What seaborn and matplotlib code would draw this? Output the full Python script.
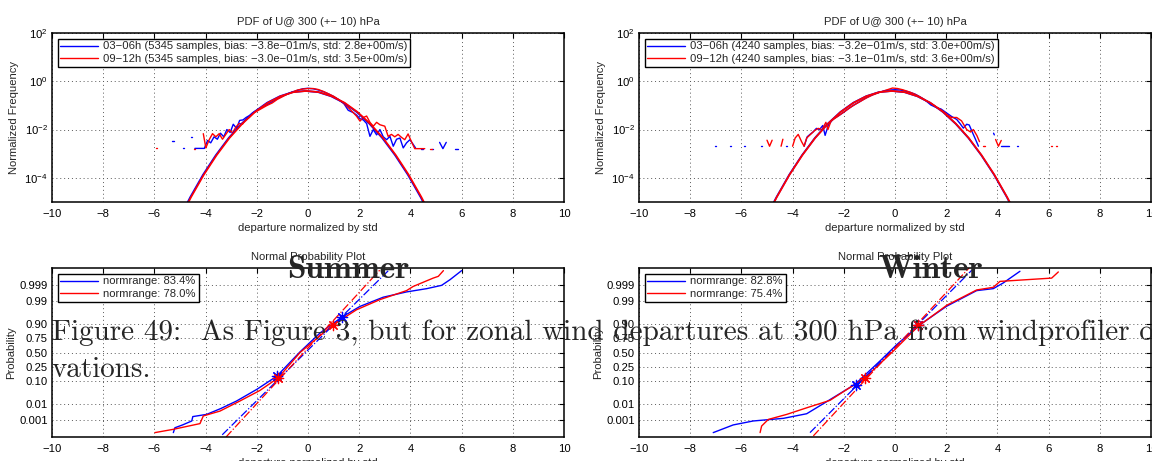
import numpy as np
import matplotlib
matplotlib.use('Agg')
import matplotlib.pyplot as plt
import seaborn as sns
from matplotlib.lines import Line2D
from matplotlib.ticker import FuncFormatter, NullLocator
from statistics import NormalDist

nan = np.nan

# ---- PDF panels: (departure / std, log10 normalized frequency), nan = gap ----
summer_blue_pdf = [
    (-5.30, -2.49), (-5.22, -2.49), (nan, nan), (-4.90, -2.78), (-4.84, -2.78), (nan, nan),
    (-4.57, -2.29), (-4.52, -2.29), (nan, nan),
    (-4.42, -2.78), (-4.30, -2.78), (-4.17, -2.78), (-4.05, -2.78), (-3.92, -2.45), (-3.80, -2.55),
    (-3.67, -2.30), (-3.54, -2.40), (-3.42, -2.15), (-3.29, -2.30), (-3.17, -2.00), (-3.04, -2.12),
    (-2.92, -1.78), (-2.79, -1.95), (-2.67, -1.62), (-2.54, -1.60), (-2.42, -1.50), (-2.29, -1.42),
    (-2.16, -1.30), (-2.00, -1.20), (-1.80, -1.08), (-1.60, -0.97), (-1.40, -0.85), (-1.20, -0.72),
    (-1.00, -0.62), (-0.80, -0.52), (-0.60, -0.44), (-0.40, -0.37), (-0.20, -0.31), (0.00, -0.29),
    (0.20, -0.31), (0.40, -0.36), (0.60, -0.43), (0.80, -0.52), (1.00, -0.63), (1.20, -0.76),
    (1.40, -0.92), (1.57, -1.20), (1.77, -1.30), (1.90, -1.40), (2.03, -1.55), (2.16, -1.60),
    (2.29, -1.75), (2.42, -2.28), (2.55, -2.00), (2.68, -2.22), (2.81, -2.00), (2.94, -2.30),
    (3.07, -2.42), (3.20, -2.28), (3.33, -2.69), (3.46, -2.40), (3.59, -2.35), (3.72, -2.76),
    (3.85, -2.55), (3.98, -2.42), (4.10, -2.60), (4.20, -2.76), (nan, nan),
    (4.40, -2.79), (4.50, -2.79), (nan, nan), (4.85, -2.79), (4.90, -2.79), (nan, nan),
    (5.14, -2.53), (5.27, -2.79), (5.40, -2.53), (nan, nan), (5.75, -2.79), (5.85, -2.79),
]
summer_red_pdf = [
    (-5.95, -2.78), (-5.90, -2.78), (nan, nan), (-4.45, -2.79), (-4.40, -2.79), (nan, nan),
    (-4.09, -2.17), (-3.99, -2.76), (-3.86, -2.42), (-3.73, -2.17), (-3.60, -2.30), (-3.47, -2.17),
    (-3.34, -2.40), (-3.21, -2.20), (-3.08, -2.00), (-2.95, -2.14), (-2.82, -1.90), (-2.69, -1.75),
    (-2.56, -1.78), (-2.43, -1.58), (-2.30, -1.50), (-2.14, -1.32), (-2.00, -1.24), (-1.80, -1.12),
    (-1.60, -1.00), (-1.40, -0.90), (-1.20, -0.75), (-1.00, -0.64), (-0.80, -0.53), (-0.60, -0.44),
    (-0.40, -0.36), (-0.20, -0.32), (0.00, -0.30), (0.20, -0.30), (0.40, -0.34), (0.60, -0.42),
    (0.80, -0.52), (1.00, -0.62), (1.20, -0.76), (1.40, -0.92), (1.60, -1.12), (1.77, -1.30),
    (1.90, -1.45), (2.03, -1.65), (2.16, -1.50), (2.29, -1.44), (2.42, -1.70), (2.55, -1.86),
    (2.68, -1.70), (2.81, -1.80), (3.00, -1.86), (3.13, -2.28), (3.26, -2.20), (3.39, -2.30),
    (3.52, -2.20), (3.65, -2.32), (3.78, -2.42), (3.91, -2.18), (4.04, -2.50), (4.17, -2.79),
    (4.30, -2.79), (4.43, -2.79), (4.56, -2.79), (nan, nan), (4.78, -2.79), (4.84, -2.79),
]
winter_blue_pdf = [
    (-7.05, -2.69), (-7.00, -2.69), (nan, nan), (-6.46, -2.69), (-6.42, -2.69), (nan, nan),
    (-5.88, -2.69), (-5.84, -2.69), (nan, nan), (-5.23, -2.69), (-5.19, -2.69), (nan, nan),
    (-4.26, -2.69), (-4.22, -2.69), (nan, nan),
    (-3.55, -2.69), (-3.43, -2.30), (-3.32, -2.20), (-3.20, -2.10), (-3.07, -1.95), (-2.95, -2.00),
    (-2.82, -1.83), (-2.73, -2.24), (-2.60, -1.80), (-2.41, -1.56), (-2.22, -1.44), (-2.00, -1.28),
    (-1.80, -1.12), (-1.60, -0.98), (-1.40, -0.86), (-1.20, -0.73), (-1.00, -0.62), (-0.80, -0.52),
    (-0.60, -0.45), (-0.40, -0.39), (-0.20, -0.36), (0.00, -0.35), (0.20, -0.36), (0.40, -0.40),
    (0.60, -0.46), (0.80, -0.54), (1.00, -0.66), (1.20, -0.80), (1.40, -0.98), (1.60, -1.08),
    (1.80, -1.15), (2.00, -1.30), (2.20, -1.45), (2.41, -1.58), (2.54, -1.75), (2.67, -1.94),
    (2.80, -1.78), (2.90, -1.81), (3.00, -2.06), (3.13, -2.37), (3.26, -2.69), (nan, nan),
    (3.85, -2.15), (3.88, -2.22), (nan, nan), (4.15, -2.69), (4.30, -2.69), (4.46, -2.69), (nan, nan),
    (4.76, -2.69), (4.80, -2.69),
]
winter_red_pdf = [
    (-5.00, -2.44), (-4.90, -2.69), (-4.80, -2.44), (nan, nan), (-4.45, -2.69), (-4.38, -2.40), (nan, nan),
    (-4.00, -2.69), (-3.90, -2.35), (-3.78, -2.20), (-3.65, -2.50), (-3.55, -2.69), (-3.45, -2.35),
    (-3.30, -2.20), (-3.15, -2.05), (-3.00, -1.95), (-2.85, -2.00), (-2.70, -1.70), (-2.62, -2.00),
    (-2.50, -1.65), (-2.30, -1.50), (-2.10, -1.35), (-1.90, -1.20), (-1.70, -1.05), (-1.50, -0.92),
    (-1.30, -0.80), (-1.10, -0.68), (-0.90, -0.58), (-0.70, -0.50), (-0.50, -0.42), (-0.30, -0.35),
    (-0.10, -0.28), (0.10, -0.30), (0.30, -0.35), (0.50, -0.42), (0.70, -0.50), (0.90, -0.60),
    (1.10, -0.72), (1.30, -0.86), (1.50, -0.98), (1.70, -1.12), (1.90, -1.26), (2.05, -1.40),
    (2.20, -1.50), (2.41, -1.50), (2.60, -1.64), (2.80, -2.00), (2.95, -2.10), (3.06, -2.00),
    (3.20, -2.25), (3.30, -2.50), (nan, nan), (3.45, -2.69), (3.50, -2.69), (nan, nan),
    (3.93, -2.41), (4.04, -2.69), (4.15, -2.45), (nan, nan), (6.10, -2.69), (6.15, -2.69), (nan, nan),
    (6.28, -2.69), (6.32, -2.69),
]

# fitted gaussian (log10), shared shape, with per-series centre offsets
fit_x = [-5.0, -4.5, -4.0, -3.5, -3.0, -2.5, -2.0, -1.5, -1.0, -0.5, 0.0,
         0.5, 1.0, 1.5, 2.0, 2.5, 3.0, 3.5, 4.0, 4.5, 5.0]
fit_logf = [-5.83, -4.80, -3.87, -3.06, -2.35, -1.76, -1.27, -0.89, -0.62, -0.45, -0.40,
            -0.45, -0.62, -0.89, -1.27, -1.76, -2.35, -3.06, -3.87, -4.80, -5.83]
fit_shift = {'summer': (-0.10, -0.07), 'winter': (-0.13, -0.12)}

samples = {'summer': 5345, 'winter': 4240}
bias = {'summer': ('\u22123.8e\u221201', '\u22123.0e\u221201'), 'winter': ('\u22123.2e\u221201', '\u22123.1e\u221201')}
std = {'summer': ('2.8e+00', '3.5e+00'), 'winter': ('3.0e+00', '3.6e+00')}
normrange = {'summer': ('83.4%', '78.0%'), 'winter': ('82.8%', '75.4%')}

# ---- normal probability panels: (departure / std, normal quantile z) ----
summer_blue_q = [(-5.26, -3.65), (-5.20, -3.43), (-4.90, -3.30), (-4.54, -3.12), (-4.50, -2.92),
                 (-3.96, -2.82), (-3.40, -2.55), (-2.79, -2.21), (-2.00, -1.68), (-1.22, -1.08),
                 (-0.31, 0.03), (0.47, 0.89), (1.32, 1.61), (2.03, 2.10), (2.94, 2.52), (3.85, 2.76),
                 (4.64, 2.91), (5.22, 3.06), (5.55, 3.32), (6.00, 3.73)]
summer_red_q = [(-5.98, -3.65), (-5.26, -3.50), (-4.22, -3.24), (-4.09, -2.89), (-3.44, -2.67),
                (-2.66, -2.21), (-1.88, -1.73), (-1.16, -1.15), (-0.31, 0.00), (0.99, 1.27),
                (1.90, 1.95), (2.81, 2.41), (3.85, 2.82), (4.11, 3.01), (4.89, 3.39), (5.09, 3.47),
                (5.29, 3.73)]
winter_blue_q = [(-7.10, -3.65), (-6.32, -3.30), (-5.54, -3.12), (-4.36, -3.00), (-3.45, -2.79),
                 (-2.67, -2.24), (-1.56, -1.45), (-0.59, -0.39), (0.07, 0.36), (0.98, 1.27),
                 (2.02, 2.11), (3.19, 2.82), (3.84, 2.91), (4.23, 3.17), (4.88, 3.70)]
winter_red_q = [(-5.27, -3.65), (-5.21, -3.35), (-4.95, -3.05), (-4.23, -2.82), (-3.45, -2.52),
                (-2.54, -2.18), (-1.17, -1.15), (-0.07, 0.06), (0.91, 1.20), (2.02, 2.15),
                (3.19, 2.85), (3.84, 2.97), (4.10, 3.24), (6.12, 3.39), (6.38, 3.67)]
ref_lines = {'summer': ([(-3.35, -3.75), (3.20, 3.80)], [(-3.20, -3.85), (2.80, 3.75)]),
             'winter': ([(-3.32, -3.65), (3.00, 3.75)], [(-3.19, -3.80), (2.90, 3.86)])}
quant_marks = {'summer': ([(-1.22, -1.08), (1.32, 1.61)], [(-1.16, -1.15), (0.99, 1.27)]),
               'winter': ([(-1.52, -1.49), (0.91, 1.27)], [(-1.17, -1.15), (0.91, 1.24)])}
prob_ticks = [0.001, 0.01, 0.10, 0.25, 0.50, 0.75, 0.90, 0.99, 0.999]
prob_labels = ['0.001', '0.01', '0.10', '0.25', '0.50', '0.75', '0.90', '0.99', '0.999']

sns.set_style('white')
plt.rcParams['font.family'] = ['Liberation Sans', 'DejaVu Sans']
plt.rcParams['mathtext.fontset'] = 'custom'
plt.rcParams['mathtext.rm'] = 'Liberation Sans'
plt.rcParams['mathtext.it'] = 'Liberation Sans'

BLUE, RED = '#0000ff', '#ff0000'
FS = 8.1


def draw(ax, pts, color, ls='-', lw=1.0, logy=False):
    arr = np.array(pts, dtype=float)
    cuts = np.where(np.isnan(arr[:, 0]))[0]
    for seg in np.split(arr, cuts):
        seg = seg[~np.isnan(seg[:, 0])]
        if len(seg) < 2:
            continue
        y = 10 ** seg[:, 1] if logy else seg[:, 1]
        sns.lineplot(x=seg[:, 0], y=y, ax=ax, color=color, lw=lw, linestyle=ls,
                     estimator=None, sort=False)


def frame(ax):
    for s in ax.spines.values():
        s.set_color('black')
        s.set_linewidth(1.1)
    ax.tick_params(direction='in', length=3.5, width=0.8, top=True, right=True,
                   labelsize=FS, pad=3, colors='black')
    ax.tick_params(axis='x', pad=5)
    ax.grid(True, ls=(0, (1, 3)), color='0.35', lw=0.7)
    ax.set_xlim(-10, 10)
    ax.set_xticks(range(-10, 11, 2))
    ax.set_xlabel('departure normalized by std', fontsize=FS, labelpad=3)


def legend(ax, labels):
    h = [Line2D([], [], color=BLUE, lw=1.0), Line2D([], [], color=RED, lw=1.0)]
    lg = ax.legend(h, labels, loc='upper left', fontsize=FS, frameon=True, fancybox=False,
                   framealpha=1, edgecolor='black', borderaxespad=0.5, borderpad=0.25,
                   labelspacing=0.2, handlelength=3.3, handletextpad=0.5)
    lg.get_frame().set_linewidth(1.0)


fig = plt.figure(figsize=(11.52, 4.61), dpi=100)
W, H = 1152, 461
pdf_data = {'summer': (summer_blue_pdf, summer_red_pdf), 'winter': (winter_blue_pdf, winter_red_pdf)}
q_data = {'summer': (summer_blue_q, summer_red_q), 'winter': (winter_blue_q, winter_red_q)}

for season, left in [('summer', 52), ('winter', 639)]:
    # PDF panel
    ax = fig.add_axes([left / W, 1 - 202 / H, 512 / W, 169 / H])
    for pts, c in zip(pdf_data[season], (BLUE, RED)):
        draw(ax, pts, c, logy=True)
    for sh, c in zip(fit_shift[season], (BLUE, RED)):
        draw(ax, [(x + sh, v) for x, v in zip(fit_x, fit_logf)], c, lw=1.3, logy=True)
    ax.set_yscale('log')
    ax.set_ylim(1e-5, 1e2)
    ax.set_yticks([1e-4, 1e-2, 1e0, 1e2])
    ax.yaxis.set_minor_locator(NullLocator())
    ax.yaxis.set_major_formatter(FuncFormatter(lambda v, p: r'$10^{%d}$' % round(np.log10(v))))
    frame(ax)
    ax.set_ylabel('Normalized Frequency', fontsize=FS, labelpad=4)
    ax.set_title('PDF of U@ 300 (+\u2212 10) hPa', fontsize=FS, pad=6)
    n = samples[season]
    legend(ax, ['%s (%d samples, bias: %sm/s, std: %sm/s)' % (t, n, b, s)
                for t, b, s in zip(('03\u221206h', '09\u221212h'), bias[season], std[season])])

    # normal probability panel
    ax = fig.add_axes([left / W, 1 - 437 / H, 512 / W, 169 / H])
    for pts, c in zip(q_data[season], (BLUE, RED)):
        draw(ax, pts, c)
    for pts, c in zip(ref_lines[season], (BLUE, RED)):
        draw(ax, pts, c, ls='-.', lw=0.9)
    for pts, c in zip(quant_marks[season], (BLUE, RED)):
        arr = np.array(pts)
        sns.scatterplot(x=arr[:, 0], y=arr[:, 1], ax=ax, marker=(8, 2, 0), s=55,
                        color=c, linewidth=0.9, zorder=5)
    ax.set_ylim(-3.85, 3.85)
    ax.set_yticks([NormalDist().inv_cdf(p) for p in prob_ticks])
    ax.set_yticklabels(prob_labels)
    frame(ax)
    ax.set_ylabel('Probability', fontsize=FS, labelpad=2)
    ax.set_title('Normal Probability Plot', fontsize=FS, pad=6)
    legend(ax, ['normrange: ' + r for r in normrange[season]])

# overlapping page text
fig.text(287 / W, 1 - 278 / H, 'Summer', family='cmb10', fontsize=24, va='baseline', zorder=10)
fig.text(878 / W, 1 - 278 / H, 'Winter', family='cmb10', fontsize=24, va='baseline', zorder=10)
fig.text(52 / W, 1 - 340 / H,
         'Figure 49:  As Figure 3, but for zonal wind departures at 300 hPa from windprofiler obser-',
         family='cmr10', fontsize=21, va='baseline', zorder=10)
fig.text(52 / W, 1 - 377 / H, 'vations.', family='cmr10', fontsize=21, va='baseline', zorder=10)

fig.savefig('out.png', dpi=100)
